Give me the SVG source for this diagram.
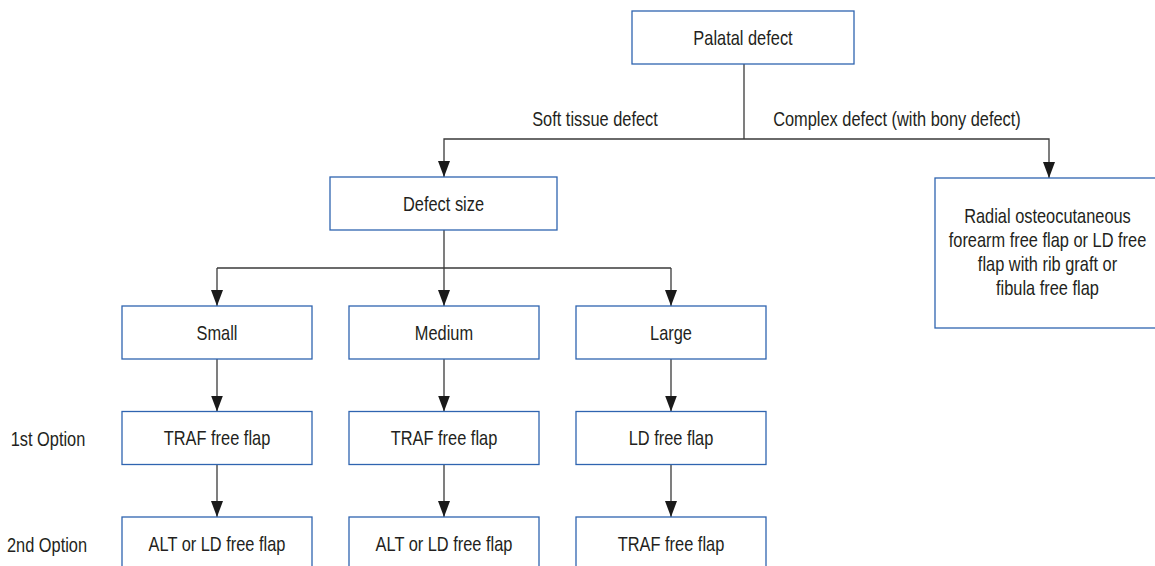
<svg xmlns="http://www.w3.org/2000/svg" width="1155" height="566" viewBox="0 0 1155 566">
<defs>
<style>
.box{fill:#fff;stroke:#2f64b0;stroke-width:1.3}
.t{font-family:"Liberation Sans",Arial,sans-serif;font-size:20px;fill:#231f20;text-anchor:middle}
.ln{fill:none;stroke:#3a3a3a;stroke-width:1.3}
</style>
<marker id="ah" markerUnits="userSpaceOnUse" markerWidth="16" markerHeight="12" refX="16" refY="6" orient="auto" viewBox="0 0 16 12">
<path d="M0,0 L16,6 L0,12 Z" fill="#1a1a1a"/>
</marker>
</defs>
<rect width="1155" height="566" fill="#fff"/>
<g id="connectors">
<path class="ln" d="M744,64 V139"/>
<path class="ln" d="M744,139 H444 V177" marker-end="url(#ah)"/>
<path class="ln" d="M744,139 H1049 V178" marker-end="url(#ah)"/>
<path class="ln" d="M444,230 V306" marker-end="url(#ah)"/>
<path class="ln" d="M217,268 H671"/>
<path class="ln" d="M217,268 V306" marker-end="url(#ah)"/>
<path class="ln" d="M671,268 V306" marker-end="url(#ah)"/>
<path class="ln" d="M217,359 V411.5" marker-end="url(#ah)"/>
<path class="ln" d="M444,359 V411.5" marker-end="url(#ah)"/>
<path class="ln" d="M671,359 V411.5" marker-end="url(#ah)"/>
<path class="ln" d="M217,464.5 V517" marker-end="url(#ah)"/>
<path class="ln" d="M444,464.5 V517" marker-end="url(#ah)"/>
<path class="ln" d="M671,464.5 V517" marker-end="url(#ah)"/>
<text class="t" transform="translate(595 126) scale(0.82 1)">Soft tissue defect</text>
<text class="t" transform="translate(897 126) scale(0.82 1)">Complex defect (with bony defect)</text>
</g>
<g id="palatal"><rect class="box" x="632" y="11" width="222" height="53"/><text class="t" transform="translate(743 45) scale(0.82 1)">Palatal defect</text></g>
<g id="defect-size"><rect class="box" x="330" y="177" width="227" height="53"/><text class="t" transform="translate(443.5 211) scale(0.82 1)">Defect size</text></g>
<g id="complex"><rect class="box" x="935" y="178" width="226" height="150"/>
<text class="t" transform="translate(1047.5 223) scale(0.82 1)">Radial osteocutaneous</text>
<text class="t" transform="translate(1047.5 247) scale(0.82 1)">forearm free flap or LD free</text>
<text class="t" transform="translate(1047.5 271) scale(0.82 1)">flap with rib graft or</text>
<text class="t" transform="translate(1047.5 295) scale(0.82 1)">fibula free flap</text></g>
<g id="small"><rect class="box" x="122" y="306" width="190" height="53"/><text class="t" transform="translate(217 340) scale(0.82 1)">Small</text></g>
<g id="medium"><rect class="box" x="349" y="306" width="190" height="53"/><text class="t" transform="translate(444 340) scale(0.82 1)">Medium</text></g>
<g id="large"><rect class="box" x="576" y="306" width="190" height="53"/><text class="t" transform="translate(671 340) scale(0.82 1)">Large</text></g>
<g id="opt1-label"><text class="t" transform="translate(48 446) scale(0.82 1)">1st Option</text></g>
<g id="opt2-label"><text class="t" transform="translate(47 552) scale(0.82 1)">2nd Option</text></g>
<g id="small-1"><rect class="box" x="122" y="411.5" width="190" height="53"/><text class="t" transform="translate(217 445) scale(0.82 1)">TRAF free flap</text></g>
<g id="medium-1"><rect class="box" x="349" y="411.5" width="190" height="53"/><text class="t" transform="translate(444 445) scale(0.82 1)">TRAF free flap</text></g>
<g id="large-1"><rect class="box" x="576" y="411.5" width="190" height="53"/><text class="t" transform="translate(671 445) scale(0.82 1)">LD free flap</text></g>
<g id="small-2"><rect class="box" x="122" y="517" width="190" height="53"/><text class="t" transform="translate(217 551) scale(0.82 1)">ALT or LD free flap</text></g>
<g id="medium-2"><rect class="box" x="349" y="517" width="190" height="53"/><text class="t" transform="translate(444 551) scale(0.82 1)">ALT or LD free flap</text></g>
<g id="large-2"><rect class="box" x="576" y="517" width="190" height="53"/><text class="t" transform="translate(671 551) scale(0.82 1)">TRAF free flap</text></g>
</svg>
